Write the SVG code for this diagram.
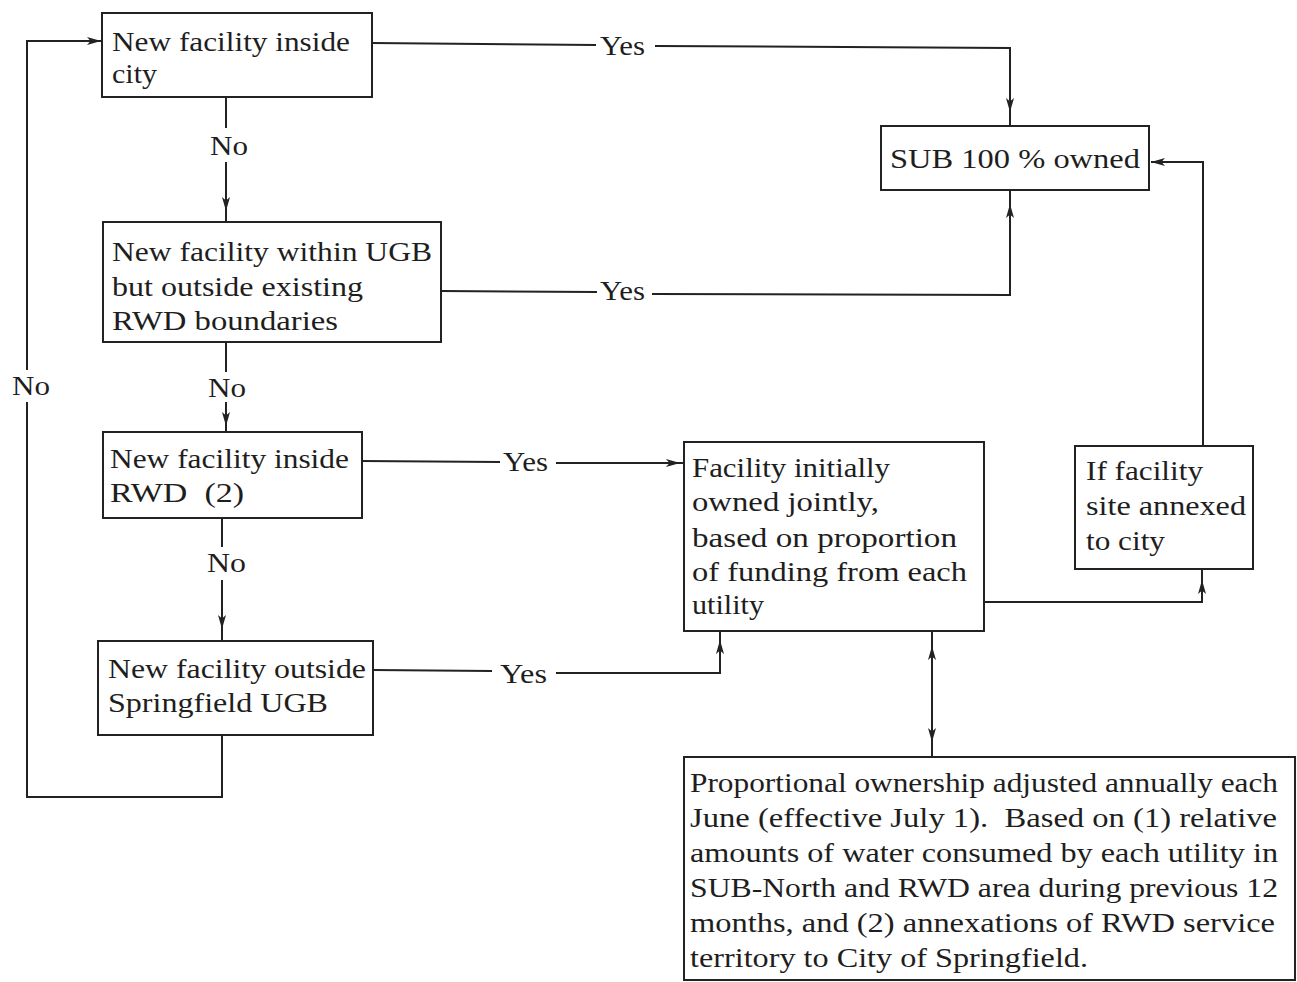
<svg xmlns="http://www.w3.org/2000/svg" width="1297" height="982" viewBox="0 0 1297 982">
<defs>
<marker id="ah" viewBox="0 0 14 9" refX="14" refY="4.5" markerWidth="14" markerHeight="9" markerUnits="userSpaceOnUse" orient="auto">
<path d="M0,0.5 L14,4.5 L0,8.5 L3.5,4.5 z" fill="#222"/>
</marker>
<style>
.box{fill:#fff;stroke:#222;stroke-width:2}
.ln{fill:none;stroke:#222;stroke-width:2}
.t{font-family:"Liberation Serif","Times New Roman",serif;font-size:27px;fill:#1e1e1e}
.lb{font-family:"Liberation Serif","Times New Roman",serif;font-size:27px;fill:#1e1e1e}
</style>
</defs>
<rect width="1297" height="982" fill="#fff"/>
<g id="connectors">
<path class="ln" d="M372,43 L596,45"/>
<path class="ln" d="M655,46 L1010,48 L1010,112" marker-end="url(#ah)"/>
<path class="ln" d="M1010,110 L1010,126"/>
<text class="lb" x="600" y="55" textLength="45" lengthAdjust="spacingAndGlyphs">Yes</text>
<path class="ln" d="M441,291 L597,292"/>
<path class="ln" d="M652,294 L1010,295 L1010,204" marker-end="url(#ah)"/>
<path class="ln" d="M1010,206 L1010,190"/>
<text class="lb" x="600" y="300" textLength="45" lengthAdjust="spacingAndGlyphs">Yes</text>
<path class="ln" d="M226,97 L226,128"/>
<path class="ln" d="M226,162 L226,211" marker-end="url(#ah)"/>
<path class="ln" d="M226,209 L226,222"/>
<text class="lb" x="210" y="155" textLength="38" lengthAdjust="spacingAndGlyphs">No</text>
<path class="ln" d="M226,342 L226,372"/>
<path class="ln" d="M226,402 L226,426" marker-end="url(#ah)"/>
<path class="ln" d="M226,424 L226,432"/>
<text class="lb" x="208" y="397" textLength="38" lengthAdjust="spacingAndGlyphs">No</text>
<path class="ln" d="M222,518 L222,547"/>
<path class="ln" d="M222,580 L222,629" marker-end="url(#ah)"/>
<path class="ln" d="M222,627 L222,641"/>
<text class="lb" x="207" y="572" textLength="39" lengthAdjust="spacingAndGlyphs">No</text>
<path class="ln" d="M222,735 L222,797 L27,797 L27,402"/>
<path class="ln" d="M27,370 L27,41 L101,41" marker-end="url(#ah)"/>
<text class="lb" x="12" y="395" textLength="38" lengthAdjust="spacingAndGlyphs">No</text>
<path class="ln" d="M362,461 L500,462"/>
<path class="ln" d="M556,463 L680,463" marker-end="url(#ah)"/>
<path class="ln" d="M678,463 L684,463"/>
<text class="lb" x="503" y="471" textLength="45" lengthAdjust="spacingAndGlyphs">Yes</text>
<path class="ln" d="M373,670 L492,671"/>
<path class="ln" d="M556,673 L720,673 L720,640" marker-end="url(#ah)"/>
<path class="ln" d="M720,642 L720,631"/>
<text class="lb" x="500" y="683" textLength="47" lengthAdjust="spacingAndGlyphs">Yes</text>
<path class="ln" d="M984,602 L1202,602 L1202,580" marker-end="url(#ah)"/>
<path class="ln" d="M1202,582 L1202,569"/>
<path class="ln" d="M1203,446 L1203,162 L1151,162" marker-end="url(#ah)"/>
<path class="ln" d="M932,631 L932,646"/>
<path class="ln" d="M932,740 L932,646" marker-end="url(#ah)"/>
<path class="ln" d="M932,648 L932,742" marker-end="url(#ah)"/>
<path class="ln" d="M932,740 L932,757"/>
</g>
<g id="n1">
<rect class="box" x="102" y="13" width="270" height="84"/>
<text class="t" x="112" y="51" textLength="238" lengthAdjust="spacingAndGlyphs">New facility inside</text>
<text class="t" x="112" y="83" textLength="45" lengthAdjust="spacingAndGlyphs">city</text>
</g>
<g id="n2">
<rect class="box" x="103" y="222" width="338" height="120"/>
<text class="t" x="112" y="261" textLength="320" lengthAdjust="spacingAndGlyphs">New facility within UGB</text>
<text class="t" x="112" y="296" textLength="251" lengthAdjust="spacingAndGlyphs">but outside existing</text>
<text class="t" x="112" y="330" textLength="226" lengthAdjust="spacingAndGlyphs">RWD boundaries</text>
</g>
<g id="n3">
<rect class="box" x="103" y="432" width="259" height="86"/>
<text class="t" x="110" y="468" textLength="239" lengthAdjust="spacingAndGlyphs">New facility inside</text>
<text class="t" x="110" y="502" textLength="134" lengthAdjust="spacingAndGlyphs" xml:space="preserve">RWD  (2)</text>
</g>
<g id="n4">
<rect class="box" x="98" y="641" width="275" height="94"/>
<text class="t" x="108" y="678" textLength="258" lengthAdjust="spacingAndGlyphs">New facility outside</text>
<text class="t" x="108" y="712" textLength="220" lengthAdjust="spacingAndGlyphs">Springfield UGB</text>
</g>
<g id="n5">
<rect class="box" x="881" y="126" width="268" height="64"/>
<text class="t" x="890" y="168" textLength="250" lengthAdjust="spacingAndGlyphs">SUB 100 % owned</text>
</g>
<g id="n6">
<rect class="box" x="684" y="442" width="300" height="189"/>
<text class="t" x="692" y="477" textLength="198" lengthAdjust="spacingAndGlyphs">Facility initially</text>
<text class="t" x="692" y="511" textLength="187" lengthAdjust="spacingAndGlyphs">owned jointly,</text>
<text class="t" x="692" y="547" textLength="265" lengthAdjust="spacingAndGlyphs">based on proportion</text>
<text class="t" x="692" y="581" textLength="275" lengthAdjust="spacingAndGlyphs">of funding from each</text>
<text class="t" x="692" y="614" textLength="72" lengthAdjust="spacingAndGlyphs">utility</text>
</g>
<g id="n7">
<rect class="box" x="1075" y="446" width="178" height="123"/>
<text class="t" x="1086" y="480" textLength="117" lengthAdjust="spacingAndGlyphs">If facility</text>
<text class="t" x="1086" y="515" textLength="160" lengthAdjust="spacingAndGlyphs">site annexed</text>
<text class="t" x="1086" y="550" textLength="79" lengthAdjust="spacingAndGlyphs">to city</text>
</g>
<g id="n8">
<rect class="box" x="684" y="757" width="611" height="223"/>
<text class="t" x="690" y="792" textLength="588" lengthAdjust="spacingAndGlyphs">Proportional ownership adjusted annually each</text>
<text class="t" x="690" y="827" textLength="587" lengthAdjust="spacingAndGlyphs" xml:space="preserve">June (effective July 1).  Based on (1) relative</text>
<text class="t" x="690" y="862" textLength="588" lengthAdjust="spacingAndGlyphs">amounts of water consumed by each utility in</text>
<text class="t" x="690" y="897" textLength="588" lengthAdjust="spacingAndGlyphs">SUB-North and RWD area during previous 12</text>
<text class="t" x="690" y="932" textLength="585" lengthAdjust="spacingAndGlyphs">months, and (2) annexations of RWD service</text>
<text class="t" x="690" y="967" textLength="398" lengthAdjust="spacingAndGlyphs">territory to City of Springfield.</text>
</g>
</svg>
